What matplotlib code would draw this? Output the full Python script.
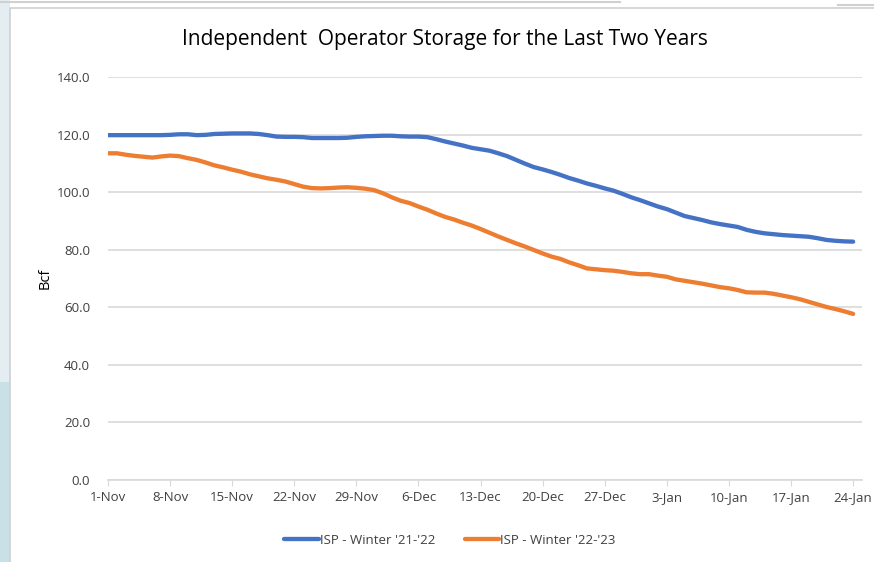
# Independent operator storage, winter '21-'22 vs '22-'23 (daily, Bcf)

import matplotlib

matplotlib.use("Agg")
import matplotlib.pyplot as plt
from matplotlib.patches import Rectangle

FONT = ["Liberation Sans Narrow", "Open Sans", "DejaVu Sans"]

# day offsets from 1-Nov
days = list(range(85))

tick_days = [0, 7, 14, 21, 28, 35, 42, 49, 56, 63, 70, 77, 84]
tick_labels = ["1-Nov", "8-Nov", "15-Nov", "22-Nov", "29-Nov", "6-Dec", "13-Dec",
               "20-Dec", "27-Dec", "3-Jan", "10-Jan", "17-Jan", "24-Jan"]

winter_21_22 = [
    119.8, 119.8, 119.8, 119.8, 119.8, 119.8, 119.8, 119.9,
    120.1, 120.1, 119.8, 119.9, 120.2, 120.3, 120.4, 120.4,
    120.4, 120.2, 119.8, 119.3, 119.2, 119.2, 119.1, 118.8,
    118.8, 118.8, 118.8, 118.9, 119.2, 119.4, 119.5, 119.6,
    119.6, 119.4, 119.3, 119.3, 119.1, 118.4, 117.6, 116.9,
    116.2, 115.4, 114.9, 114.4, 113.5, 112.5, 111.2, 109.9,
    108.7, 107.9, 107.0, 106.0, 104.9, 104.0, 103.0, 102.2,
    101.3, 100.5, 99.4, 98.2, 97.2, 96.1, 95.0, 94.1,
    92.9, 91.7, 91.0, 90.3, 89.5, 88.9, 88.4, 87.9,
    86.9, 86.2, 85.7, 85.4, 85.1, 84.9, 84.7, 84.5,
    84.0, 83.4, 83.1, 82.9, 82.8,
]

winter_22_23 = [
    113.5, 113.5, 113.0, 112.6, 112.3, 112.0, 112.4, 112.7,
    112.5, 111.8, 111.2, 110.3, 109.3, 108.6, 107.8, 107.1,
    106.2, 105.5, 104.8, 104.3, 103.7, 102.8, 101.9, 101.4,
    101.3, 101.4, 101.6, 101.7, 101.5, 101.2, 100.7, 99.6,
    98.2, 97.0, 96.2, 95.0, 93.9, 92.6, 91.4, 90.5,
    89.4, 88.4, 87.2, 85.9, 84.6, 83.4, 82.2, 81.1,
    79.9, 78.7, 77.6, 76.8, 75.6, 74.6, 73.5, 73.2,
    72.9, 72.7, 72.3, 71.8, 71.5, 71.5, 71.0, 70.6,
    69.7, 69.2, 68.7, 68.2, 67.6, 67.0, 66.6, 66.0,
    65.2, 65.1, 65.1, 64.7, 64.1, 63.5, 62.8, 61.9,
    61.0, 60.1, 59.4, 58.6, 57.7,
]

W, H = 874, 562
fig = plt.figure(figsize=(W / 100, H / 100), dpi=100)

# screenshot surroundings: left strip and chart-area frame
fig.patches.append(Rectangle((0, 0), 10 / W, 1, transform=fig.transFigure,
                             facecolor="#e4eef2", edgecolor="none", zorder=-2))
fig.patches.append(Rectangle((0, 0), 10 / W, 180 / H, transform=fig.transFigure,
                             facecolor="#c9e0e6", edgecolor="none", zorder=-2))
fig.patches.append(Rectangle((10 / W, -0.01), 1, 1 - 8 / H + 0.01, transform=fig.transFigure,
                             facecolor="white", edgecolor="#d0d0d0", linewidth=1.2, zorder=-1))
fig.lines.append(plt.Line2D([0, 620 / W], [1 - 2 / H, 1 - 2 / H], transform=fig.transFigure,
                            color="#d0d0d0", linewidth=1.5))
fig.lines.append(plt.Line2D([838 / W, 1], [1 - 5 / H, 1 - 5 / H], transform=fig.transFigure,
                            color="#d0d0d0", linewidth=1.5))

ax = fig.add_axes([108 / W, (H - 480) / H, (862 - 108) / W, (480 - 77) / H])
ax.set_zorder(5)
ax.set_facecolor("none")

ax.plot(days, winter_21_22, color="#4472C4", linewidth=3.1,
        solid_capstyle="round", label="ISP - Winter '21-'22")
ax.plot(days, winter_22_23, color="#ED7D31", linewidth=3.1,
        solid_capstyle="round", label="ISP - Winter '22-'23")

ax.set_xlim(0, 85)
ax.set_ylim(0, 140)
ax.set_yticks(range(0, 141, 20))
ax.set_yticklabels([f"{v:.1f}" for v in range(0, 141, 20)], family=FONT, fontsize=9.5, color="#404040")
ax.set_xticks(tick_days)
ax.set_xticklabels(tick_labels, family=FONT, fontsize=9.5, color="#404040")
ax.tick_params(axis="y", length=0, pad=13)
ax.tick_params(axis="x", length=4, color="#d9d9d9", pad=4)
ax.grid(axis="y", color="#d9d9d9", linewidth=1.2)
ax.set_axisbelow(True)
for side in ["top", "right", "left"]:
    ax.spines[side].set_visible(False)
ax.spines["bottom"].set_color("#d9d9d9")
ax.spines["bottom"].set_linewidth(1.2)

ax.set_ylabel("Bcf", family=FONT, fontsize=10.5, color="black", labelpad=3)

fig.text(445 / W, 1 - 40 / H, "Independent  Operator Storage for the Last Two Years",
         family=FONT, fontsize=15, ha="center", va="center", color="black")

ax.legend(loc="center", bbox_to_anchor=(450 / W, 1 - 540 / H), bbox_transform=fig.transFigure,
          ncol=2, frameon=False, prop={"family": FONT, "size": 9.5}, handlelength=2.6,
          handletextpad=0.1, columnspacing=2.2, labelcolor="#404040")

fig.savefig("out.png", dpi=100)
